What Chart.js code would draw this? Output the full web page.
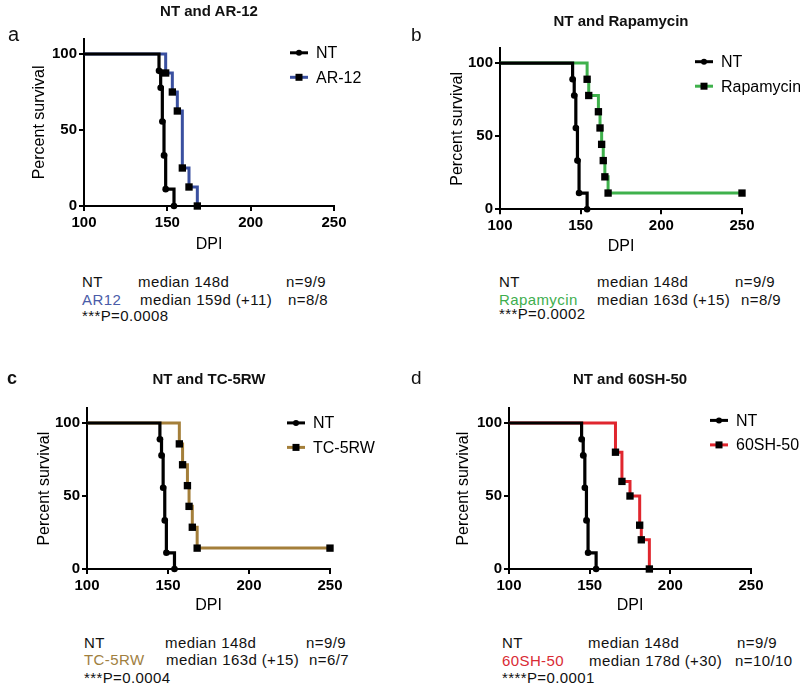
<!DOCTYPE html>
<html>
<head>
<meta charset="utf-8">
<script src="https://cdn.jsdelivr.net/npm/chart.js@4.4.0/dist/chart.umd.min.js"></script>
<style>
body { margin: 0; background: #fff; width: 800px; height: 685px; position: relative; overflow: hidden;
       font-family: "Liberation Sans", Arial, sans-serif; color: #111; }
canvas { position: absolute; }
.t { position: absolute; line-height: 1; white-space: nowrap; }
.ttl { font-weight: bold; font-size: 15px; transform: translateX(-50%); }
.s { font-size: 15px; letter-spacing: 0.4px; }
</style>
</head>
<body>

<canvas id="ca" width="400" height="254" style="left:0;top:0"></canvas>
<canvas id="cb" width="400" height="256" style="left:400px;top:0"></canvas>
<canvas id="cc" width="400" height="285" style="left:0;top:330px"></canvas>
<canvas id="cd" width="400" height="285" style="left:400px;top:330px"></canvas>

<!-- panel letters and titles -->
<div class="t" style="left:8px;top:24px;font-size:20px">a</div>
<div class="t" style="left:411px;top:25px;font-size:19px">b</div>
<div class="t" style="left:7px;top:369px;font-size:18px;font-weight:bold">c</div>
<div class="t" style="left:411px;top:368px;font-size:19px">d</div>

<div class="t ttl" style="left:209px;top:3px">NT and AR-12</div>
<div class="t ttl" style="left:621px;top:13px">NT and Rapamycin</div>
<div class="t ttl" style="left:209px;top:371px">NT and TC-5RW</div>
<div class="t ttl" style="left:630px;top:371px">NT and 60SH-50</div>

<!-- stats a -->
<div class="t s" style="left:82px;top:274px">NT</div>
<div class="t s" style="left:138px;top:274px">median 148d</div>
<div class="t s" style="left:286px;top:274px">n=9/9</div>
<div class="t s" style="left:82px;top:292px;color:#4a5ca8">AR12</div>
<div class="t s" style="left:140px;top:292px">median 159d (+11)</div>
<div class="t s" style="left:288px;top:292px">n=8/8</div>
<div class="t s" style="left:82px;top:308px">***P=0.0008</div>

<!-- stats b -->
<div class="t s" style="left:499px;top:274px">NT</div>
<div class="t s" style="left:597px;top:274px">median 148d</div>
<div class="t s" style="left:735px;top:274px">n=9/9</div>
<div class="t s" style="left:499px;top:292px;color:#3eae4e">Rapamycin</div>
<div class="t s" style="left:597px;top:292px">median 163d (+15)</div>
<div class="t s" style="left:741px;top:292px">n=8/9</div>
<div class="t s" style="left:499px;top:306px">***P=0.0002</div>

<!-- stats c -->
<div class="t s" style="left:84px;top:635px">NT</div>
<div class="t s" style="left:165px;top:635px">median 148d</div>
<div class="t s" style="left:306px;top:635px">n=9/9</div>
<div class="t s" style="left:84px;top:652px;color:#a0803f">TC-5RW</div>
<div class="t s" style="left:166px;top:652px">median 163d (+15)</div>
<div class="t s" style="left:309px;top:652px">n=6/7</div>
<div class="t s" style="left:84px;top:670px">***P=0.0004</div>

<!-- stats d -->
<div class="t s" style="left:502px;top:635px">NT</div>
<div class="t s" style="left:588px;top:635px">median 148d</div>
<div class="t s" style="left:737px;top:635px">n=9/9</div>
<div class="t s" style="left:502px;top:653px;color:#d92b35">60SH-50</div>
<div class="t s" style="left:589px;top:653px">median 178d (+30)</div>
<div class="t s" style="left:735px;top:653px">n=10/10</div>
<div class="t s" style="left:502px;top:670px">****P=0.0001</div>

<script>
// axis ticks
const xTicks = [100, 150, 200, 250];
const yTicks = [0, 50, 100];

// NT control (same in all panels)
const ntDays = [100, 145, 146, 147, 148, 149, 154];
const ntSurv = [100, 88.9, 77.8, 55.6, 33.3, 11.1, 0];

// a: AR-12
const ar12Days = [100, 149, 153, 156, 159, 163, 168];
const ar12Surv = [100, 87.5, 75, 62.5, 25, 12.5, 0];

// b: Rapamycin (last one censored at 250)
const rapaDays = [100, 154, 155, 161, 162, 163, 164, 165, 167, 250];
const rapaSurv = [100, 88.9, 77.8, 66.7, 55.6, 44.4, 33.3, 22.2, 11.1, 11.1];

// c: TC-5RW (last one censored at 250)
const tc5Days = [100, 157, 159, 162, 163, 165, 168, 250];
const tc5Surv = [100, 85.7, 71.4, 57.1, 42.9, 28.6, 14.3, 14.3];

// d: 60SH-50
const shDays = [100, 166, 170, 175, 181, 182, 187];
const shSurv = [100, 80, 60, 50, 30, 20, 0];

Chart.defaults.font.family = '"Liberation Sans", Arial, sans-serif';
Chart.defaults.color = '#000';

const toPts = (days, surv) => days.map((d, i) => ({ x: d, y: surv[i] }));
// no symbol on the starting point of each curve
const radii = (days, r) => days.map((d, i) => (i === 0 ? 0 : r));

// legend: short coloured line with the black symbol in the middle
const kmLegend = {
    id: 'kmLegend',
    afterDraw(chart, args, opts) {
        const { ctx, chartArea } = chart;
        const x0 = chartArea.right + opts.dx;
        let y = chartArea.top + opts.dy;
        chart.data.datasets.forEach(ds => {
            ctx.save();
            ctx.strokeStyle = ds.borderColor;
            ctx.lineWidth = 3;
            ctx.beginPath();
            ctx.moveTo(x0, y);
            ctx.lineTo(x0 + 18, y);
            ctx.stroke();
            ctx.fillStyle = '#000';
            if (ds.pointStyle === 'circle') {
                ctx.beginPath();
                ctx.arc(x0 + 9, y, 3, 0, Math.PI * 2);
                ctx.fill();
            } else {
                ctx.fillRect(x0 + 5.5, y - 3.5, 7, 7);
            }
            ctx.font = '16px "Liberation Sans", Arial, sans-serif';
            ctx.textBaseline = 'middle';
            ctx.fillText(ds.label, x0 + 26, y + 1);
            ctx.restore();
            y += 24.5;
        });
    }
};

const panels = [
    { id: 'ca', label: 'AR-12', days: ar12Days, surv: ar12Surv, color: '#3a50a0',
      pad: { left: 30, right: 66, top: 38.8, bottom: 0 }, yw: 54, xh: 48, leg: { dx: -44, dy: 14 } },
    { id: 'cb', label: 'Rapamycin', days: rapaDays, surv: rapaSurv, color: '#3fb14c',
      pad: { left: 47.7, right: 58, top: 48.4, bottom: 0 }, yw: 52.3, xh: 46.7, leg: { dx: -47, dy: 13.3 } },
    { id: 'cc', label: 'TC-5RW', days: tc5Days, surv: tc5Surv, color: '#a47f3a',
      pad: { left: 35, right: 70, top: 78.4, bottom: 0 }, yw: 52, xh: 46, leg: { dx: -43, dy: 14.5 } },
    { id: 'cd', label: '60SH-50', days: shDays, surv: shSurv, color: '#e0262e',
      pad: { left: 54.3, right: 49, top: 78.4, bottom: 0 }, yw: 54.7, xh: 46, leg: { dx: -41, dy: 12 } },
];

panels.forEach(p => {
    new Chart(document.getElementById(p.id), {
        type: 'line',
        data: {
            datasets: [
                {
                    label: 'NT',
                    data: toPts(ntDays, ntSurv),
                    borderColor: '#000',
                    borderWidth: 3.2,
                    stepped: true,
                    pointStyle: 'circle',
                    pointRadius: radii(ntDays, 3.3),
                    pointBackgroundColor: '#000',
                    pointBorderWidth: 0,
                    clip: false,
                },
                {
                    label: p.label,
                    data: toPts(p.days, p.surv),
                    borderColor: p.color,
                    borderWidth: 3,
                    stepped: true,
                    pointStyle: 'rect',
                    pointRadius: radii(p.days, 5.2),
                    pointBackgroundColor: '#000',
                    pointBorderWidth: 0,
                    clip: false,
                },
            ],
        },
        options: {
            responsive: false,
            animation: false,
            layout: { padding: p.pad },
            plugins: {
                legend: { display: false },
                tooltip: { enabled: false },
                kmLegend: p.leg,
            },
            scales: {
                x: {
                    type: 'linear',
                    min: 100,
                    max: 250,
                    afterBuildTicks: s => { s.ticks = xTicks.map(v => ({ value: v })); },
                    afterFit: s => { s.height = p.xh; },
                    grid: { drawOnChartArea: false, color: '#000', lineWidth: 2, tickLength: 5 },
                    border: { color: '#000', width: 2 },
                    ticks: { font: { size: 15, weight: 'bold' }, padding: 3, maxRotation: 0 },
                    title: { display: true, text: 'DPI', font: { size: 16 }, padding: 0 },
                },
                y: {
                    min: 0,
                    max: 110,
                    afterBuildTicks: s => { s.ticks = yTicks.map(v => ({ value: v })); },
                    afterFit: s => { s.width = p.yw; },
                    grid: { drawOnChartArea: false, color: '#000', lineWidth: 2, tickLength: 5 },
                    border: { color: '#000', width: 2 },
                    ticks: { font: { size: 15, weight: 'bold' }, padding: 2 },
                    title: { display: true, text: 'Percent survival', font: { size: 16 }, padding: 0 },
                },
            },
        },
        plugins: [kmLegend],
    });
});
</script>
</body>
</html>
